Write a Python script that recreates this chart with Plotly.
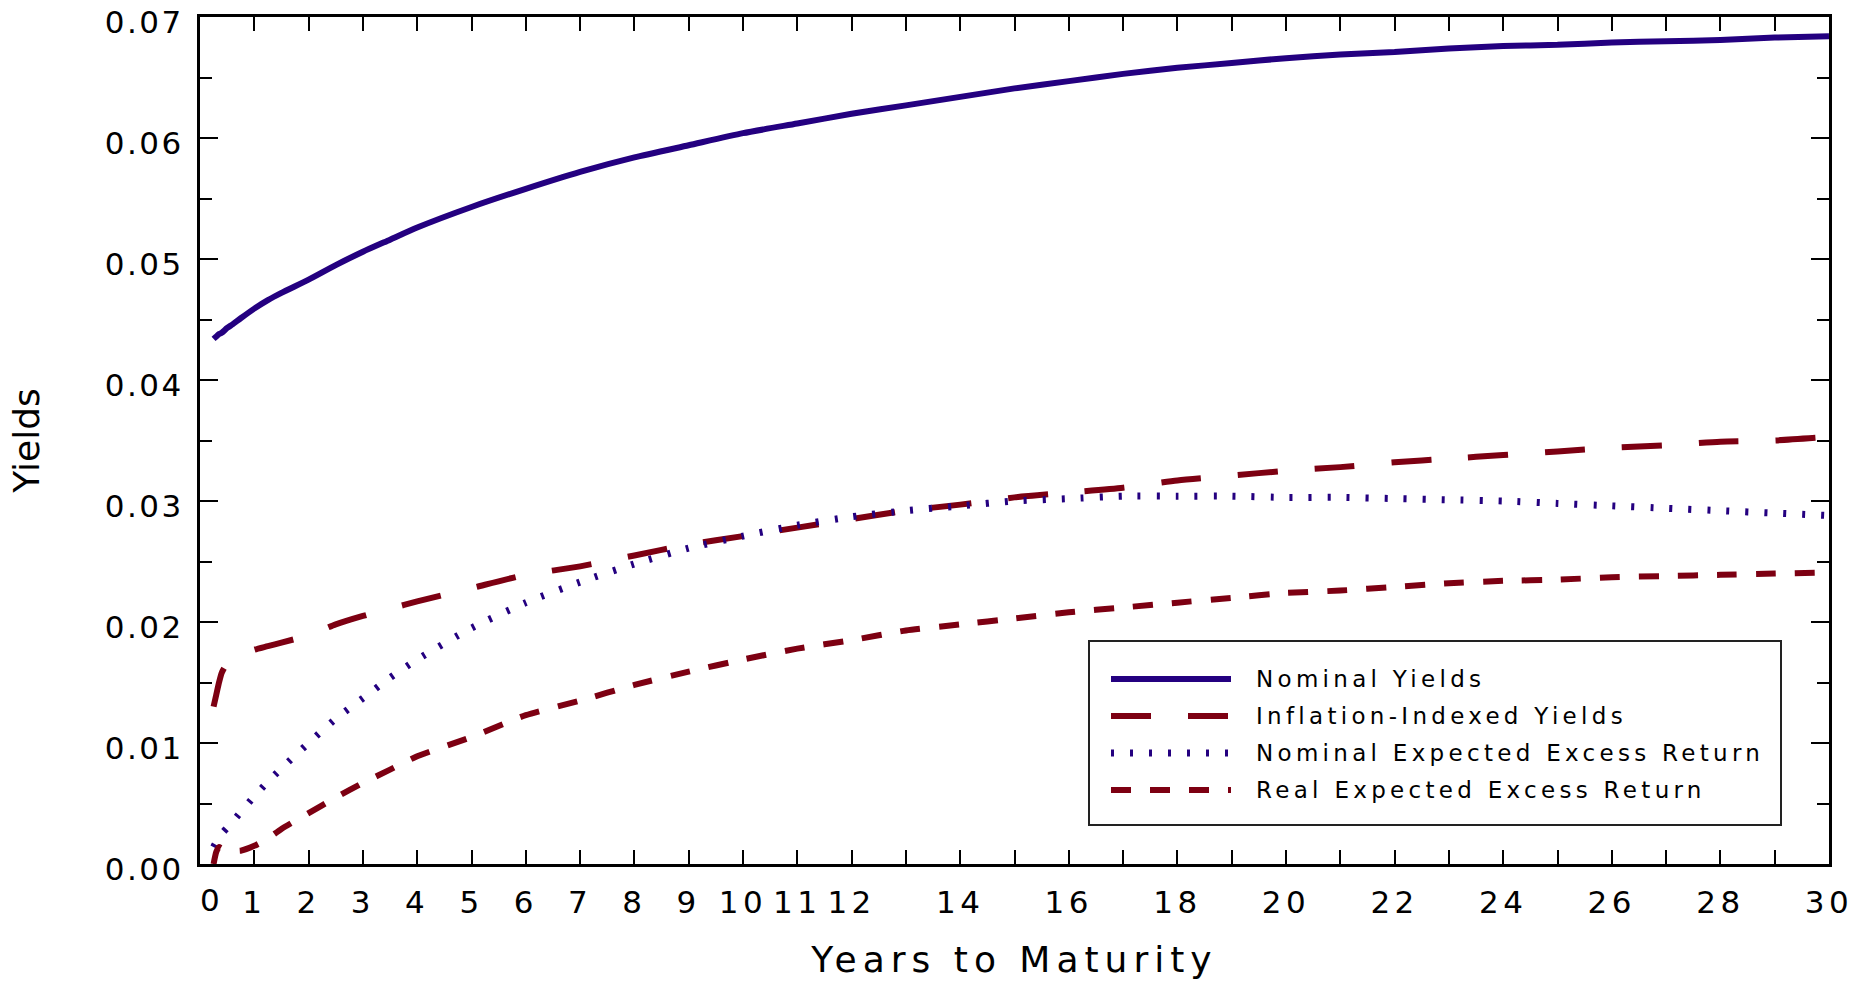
import plotly.graph_objects as go

# ---------------- data ----------------
maturity = [0.25, 0.3, 0.35, 0.4, 0.5, 0.6, 0.75, 1, 1.25, 1.5, 2, 2.5, 3, 3.5, 4,
            5, 6, 7, 8, 9, 10, 11, 12, 13, 14, 15, 16, 17, 18, 19, 20,
            21, 22, 23, 24, 25, 26, 27, 28, 29, 30]

nominal_yields = [0.0434, 0.0436, 0.0438, 0.0439, 0.0443, 0.0446, 0.0451, 0.0459, 0.0466, 0.0472,
                  0.0483, 0.0495, 0.0506, 0.0516, 0.0526,
                  0.0543, 0.0558, 0.0572, 0.0584, 0.0594, 0.0604, 0.0612, 0.0620, 0.0627, 0.0634,
                  0.0641, 0.0647, 0.0653, 0.0658, 0.0662, 0.0666, 0.0669, 0.0671, 0.0674, 0.0676,
                  0.0677, 0.0679, 0.0680, 0.0681, 0.0683, 0.0684]

inflation_indexed_yields = [0.0130, 0.0140, 0.0150, 0.0158, 0.0166, 0.0170, 0.0173, 0.0177, 0.0180, 0.0183,
                            0.0189, 0.0198, 0.0205, 0.0211, 0.0217,
                            0.0228, 0.0239, 0.0246, 0.0255, 0.0264, 0.0271, 0.0278, 0.0285, 0.0292, 0.0297,
                            0.0303, 0.0307, 0.0311, 0.0317, 0.0321, 0.0325, 0.0328, 0.0332, 0.0335, 0.0338,
                            0.0341, 0.0344, 0.0346, 0.0349, 0.0350, 0.0353]

nominal_excess_return = [0.0014, 0.0018, 0.0021, 0.0025, 0.0030, 0.0035, 0.0043, 0.0056, 0.0068, 0.0079,
                         0.0100, 0.0120, 0.0137, 0.0154, 0.0169,
                         0.0195, 0.0216, 0.0233, 0.0248, 0.0261, 0.0271, 0.0280, 0.0287, 0.0292, 0.0296,
                         0.0300, 0.0302, 0.0304, 0.0304, 0.0304, 0.0303, 0.0303, 0.0302, 0.0301, 0.0300,
                         0.0298, 0.0296, 0.0294, 0.0292, 0.0290, 0.0288]

real_excess_return = [0.0000, 0.0010, 0.0014, 0.0013, 0.0012, 0.0011, 0.0011, 0.0015, 0.0021, 0.0029,
                      0.0042, 0.0055, 0.0067, 0.0078, 0.0089,
                      0.0105, 0.0123, 0.0135, 0.0148, 0.0159, 0.0169, 0.0178, 0.0185, 0.0193, 0.0198,
                      0.0203, 0.0208, 0.0212, 0.0216, 0.0220, 0.0224, 0.0226, 0.0229, 0.0232, 0.0234,
                      0.0235, 0.0237, 0.0238, 0.0239, 0.0240, 0.0241]

series_names = ["Nominal Yields", "Inflation-Indexed Yields",
                "Nominal Expected Excess Return", "Real Expected Excess Return"]

x_tick_values = [1, 2, 3, 4, 5, 6, 7, 8, 9, 10, 11, 12, 14, 16, 18, 20, 22, 24, 26, 28, 30]
x_tick_labels = ["1", "2", "3", "4", "5", "6", "7", "8", "9", "10", "11", "12",
                 "14", "16", "18", "20", "22", "24", "26", "28", "30"]
x_zero_label = "0"
y_tick_values = [0.00, 0.01, 0.02, 0.03, 0.04, 0.05, 0.06, 0.07]
y_tick_labels = ["0.00", "0.01", "0.02", "0.03", "0.04", "0.05", "0.06", "0.07"]

# ---------------- styling ----------------
BLUE = "#240080"
RED = "#7d0012"
FONT = "DejaVu Sans"


def spaced(text, px):
    return f'<span style="letter-spacing:{px}px">{text}</span>'


styles = [
    dict(color=BLUE, width=6, dash="solid"),
    dict(color=RED, width=6, dash="40px,37px"),
    dict(color=BLUE, width=7, dash="3px,16px"),
    dict(color=RED, width=6, dash="20px,19px"),
]
values = [nominal_yields, inflation_indexed_yields, nominal_excess_return, real_excess_return]

fig = go.Figure()
for name, vals, st in zip(series_names, values, styles):
    fig.add_trace(go.Scatter(x=maturity, y=vals, mode="lines", name=name,
                             line=dict(color=st["color"], width=st["width"], dash=st["dash"],
                                       shape="spline", smoothing=0.6),
                             showlegend=False))

L, R, T, B = 200, 41, 17, 120
W, H = 1870, 984
PW, PH = W - L - R, H - T - B


def px_x(px):
    return (px - L) / PW


def px_y(py):
    return (H - B - py) / PH


fig.update_layout(
    width=W, height=H,
    margin=dict(l=L, r=R, t=T, b=B, autoexpand=False),
    paper_bgcolor="white", plot_bgcolor="white",
    font=dict(family=FONT, color="black"),
    showlegend=False,
    xaxis=dict(
        range=[0, 30.0001], showline=True, linecolor="black", linewidth=3, mirror="ticks",
        automargin=False,
        tickmode="array", tickvals=x_tick_values,
        ticktext=[spaced(t, 4.5) for t in x_tick_labels],
        ticks="inside", ticklen=14, tickwidth=2, tickcolor="black",
        minor=dict(dtick=1, tick0=0, ticks="inside", ticklen=14, tickwidth=2, tickcolor="black"),
        showgrid=False, zeroline=False, ticklabelstandoff=9, ticklabeloverflow="allow",
        tickfont=dict(size=31, family=FONT),
        title=dict(text=spaced("Years to Maturity", 6), font=dict(size=36, family=FONT), standoff=28),
    ),
    yaxis=dict(
        range=[0, 0.070001], showline=True, linecolor="black", linewidth=3, mirror="ticks",
        automargin=False,
        tickmode="array", tickvals=y_tick_values,
        ticktext=[spaced(t, 2.5) for t in y_tick_labels],
        ticks="inside", ticklen=18, tickwidth=2, tickcolor="black",
        minor=dict(dtick=0.005, tick0=0, ticks="inside", ticklen=12, tickwidth=2, tickcolor="black"),
        showgrid=False, zeroline=False, ticklabelstandoff=7, ticklabelshift=5,
        ticklabeloverflow="allow",
        tickfont=dict(size=31, family=FONT),
        title=dict(text="Yields", font=dict(size=36, family=FONT), standoff=55),
    ),
)

# tick label "0" sits just right of the origin in the reference
fig.add_annotation(x=0.22, xref="x", y=0, yref="paper", yanchor="middle", yshift=-36,
                   text=spaced(x_zero_label, 4.5), showarrow=False,
                   font=dict(size=31, family=FONT, color="black"))

# ---------------- legend box (drawn to match the long line samples) ----------------
fig.add_shape(type="rect", xref="paper", yref="paper",
              x0=px_x(1089), x1=px_x(1781), y0=px_y(825), y1=px_y(641),
              line=dict(color="#222222", width=2), fillcolor="white", layer="above")
legend_rows = [679, 716, 753, 790]
for name, st, row in zip(series_names, styles, legend_rows):
    fig.add_shape(type="line", xref="paper", yref="paper",
                  x0=px_x(1111), x1=px_x(1231), y0=px_y(row), y1=px_y(row),
                  line=dict(color=st["color"], width=st["width"], dash=st["dash"]), layer="above")
    fig.add_annotation(x=px_x(1254), y=px_y(row), xref="paper", yref="paper",
                       xanchor="left", yanchor="middle", showarrow=False,
                       text=spaced(name, 4.3), font=dict(size=23, family=FONT, color="black"))

fig.write_html("out.html")
